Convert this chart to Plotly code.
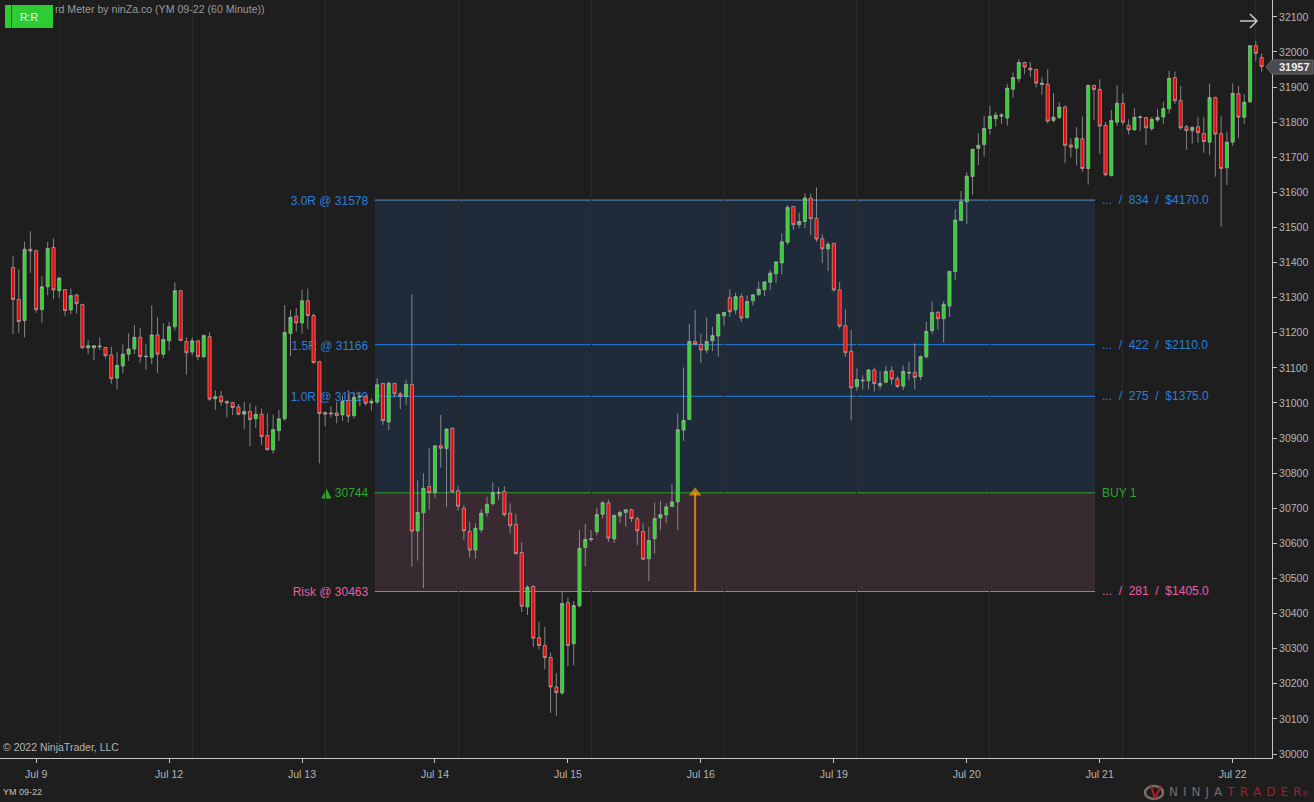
import plotly.graph_objects as go

# 60 minute YM 09-22 bars
opens = [31386, 31295, 31235, 31438, 31434, 31266, 31331, 31443, 31320, 31323,
         31265, 31308, 31281, 31157, 31157, 31160, 31158, 31137, 31071, 31105,
         31139, 31154, 31187, 31132, 31130, 31194, 31139, 31177, 31217, 31320,
         31175, 31145, 31177, 31132, 31189, 31012, 31019, 31004, 31001, 30989,
         30968, 30976, 30955, 30968, 30907, 30866, 30921, 30955, 31198, 31247,
         31228, 31291, 31249, 31118, 30973, 30969, 30972, 30966, 31006, 30964,
         31017, 31019, 31000, 31003, 31056, 30946, 31056, 31026, 31018, 31053,
         30635, 30687, 30762, 30745, 30879, 30870, 30928, 30750, 30700, 30634,
         30581, 30639, 30687, 30713, 30743, 30748, 30686, 30654, 30574, 30419,
         30477, 30331, 30309, 30275, 30191, 30174, 30431, 30314, 30422, 30588,
         30611, 30633, 30683, 30715, 30613, 30678, 30688, 30696, 30670, 30634,
         30556, 30613, 30672, 30681, 30705, 30718, 30923, 30953, 31175, 31167,
         31151, 31177, 31191, 31248, 31300, 31265, 31303, 31243, 31291, 31309,
         31323, 31344, 31368, 31399, 31458, 31560, 31508, 31517, 31584, 31526,
         31468, 31439, 31455, 31322, 31220, 31147, 31046, 31063, 31063, 31094,
         31049, 31059, 31092, 31069, 31048, 31085, 31087, 31075, 31132, 31206,
         31258, 31240, 31276, 31374, 31520, 31573, 31645, 31725, 31736, 31782,
         31810, 31817, 31812, 31894, 31924, 31970, 31954, 31950, 31907, 31908,
         31805, 31813, 31843, 31735, 31726, 31753, 31668, 31905, 31893, 31791,
         31648, 31800, 31854, 31791, 31778, 31813, 31813, 31782, 31806, 31815,
         31838, 31927, 31862, 31787, 31776, 31787, 31768, 31743, 31870, 31767,
         31670, 31743, 31881, 31814, 31858, 32018, 31984]
highs = [31418, 31381, 31459, 31489, 31437, 31361, 31459, 31469, 31358, 31323,
         31326, 31310, 31281, 31179, 31165, 31187, 31160, 31160, 31145, 31167,
         31198, 31222, 31213, 31169, 31278, 31244, 31227, 31231, 31344, 31322,
         31187, 31187, 31179, 31195, 31201, 31036, 31034, 31008, 31003, 30997,
         31003, 30999, 30991, 30984, 30970, 30967, 30980, 31279, 31265, 31270,
         31323, 31326, 31255, 31118, 30975, 30991, 31003, 31022, 31037, 31032,
         31032, 31022, 31013, 31070, 31057, 31061, 31057, 31032, 31065, 31309,
         30780, 30800, 30871, 30880, 30966, 30928, 30931, 30764, 30709, 30662,
         30657, 30698, 30733, 30774, 30761, 30763, 30714, 30684, 30603, 30481,
         30481, 30377, 30362, 30289, 30230, 30462, 30446, 30436, 30638, 30655,
         30638, 30702, 30720, 30725, 30682, 30693, 30696, 30699, 30677, 30657,
         30647, 30716, 30721, 30714, 30769, 30970, 31101, 31226, 31265, 31198,
         31243, 31217, 31255, 31258, 31324, 31314, 31312, 31306, 31309, 31346,
         31345, 31379, 31402, 31483, 31564, 31560, 31542, 31597, 31597, 31614,
         31480, 31459, 31455, 31345, 31267, 31208, 31099, 31079, 31097, 31101,
         31091, 31105, 31105, 31076, 31107, 31118, 31170, 31136, 31231, 31288,
         31262, 31290, 31375, 31552, 31604, 31658, 31723, 31768, 31818, 31846,
         31829, 31826, 31909, 31942, 31979, 31972, 31972, 31951, 31928, 31951,
         31883, 31857, 31848, 31754, 31786, 31816, 31906, 31906, 31922, 31800,
         31835, 31906, 31882, 31808, 31840, 31819, 31814, 31815, 31838, 31858,
         31946, 31944, 31903, 31792, 31789, 31815, 31815, 31910, 31873, 31817,
         31773, 31910, 31903, 31880, 32018, 32032, 31996]
lows = [31196, 31200, 31187, 31371, 31257, 31228, 31307, 31296, 31300, 31248,
        31253, 31255, 31154, 31139, 31122, 31151, 31127, 31055, 31039, 31084,
        31120, 31139, 31115, 31095, 31111, 31086, 31127, 31149, 31206, 31176,
        31081, 31136, 31122, 31127, 31006, 30980, 30992, 30959, 30965, 30965,
        30926, 30877, 30929, 30880, 30864, 30856, 30892, 30949, 31133, 31203,
        31198, 31210, 31112, 30828, 30934, 30959, 30942, 30949, 30944, 30956,
        30991, 30993, 30978, 30997, 30938, 30923, 31016, 30982, 30994, 30534,
        30551, 30473, 30697, 30728, 30816, 30704, 30744, 30693, 30610, 30559,
        30557, 30630, 30676, 30707, 30725, 30676, 30628, 30567, 30405, 30396,
        30305, 30298, 30241, 30117, 30109, 30168, 30250, 30253, 30418, 30535,
        30604, 30623, 30671, 30604, 30601, 30658, 30647, 30661, 30595, 30552,
        30493, 30571, 30638, 30657, 30704, 30638, 30892, 30953, 31167, 31114,
        31141, 31148, 31132, 31220, 31245, 31253, 31231, 31241, 31278, 31305,
        31304, 31322, 31341, 31366, 31451, 31493, 31498, 31498, 31479, 31459,
        31399, 31376, 31317, 31212, 31131, 30950, 31035, 31038, 31038, 31032,
        31039, 31057, 31052, 31043, 31037, 31065, 31039, 31065, 31126, 31197,
        31209, 31172, 31245, 31350, 31518, 31510, 31593, 31678, 31702, 31766,
        31788, 31795, 31790, 31870, 31913, 31937, 31928, 31899, 31878, 31796,
        31799, 31809, 31683, 31699, 31676, 31659, 31622, 31806, 31709, 31646,
        31645, 31789, 31791, 31765, 31776, 31775, 31735, 31775, 31801, 31795,
        31825, 31852, 31778, 31721, 31739, 31741, 31713, 31706, 31645, 31502,
        31621, 31732, 31754, 31795, 31855, 31974, 31944]
closes = [31295, 31232, 31438, 31433, 31266, 31331, 31440, 31322, 31356, 31263,
          31306, 31283, 31157, 31163, 31163, 31162, 31135, 31069, 31107, 31139,
          31154, 31187, 31132, 31133, 31194, 31139, 31181, 31217, 31320, 31178,
          31143, 31177, 31132, 31192, 31011, 31018, 31003, 31000, 30987, 30968,
          30976, 30953, 30968, 30904, 30867, 30924, 30955, 31201, 31244, 31228,
          31291, 31249, 31115, 30970, 30968, 30971, 30964, 31005, 30962, 31016,
          31019, 30999, 31005, 31052, 30950, 31056, 31026, 31019, 31053, 30635,
          30688, 30757, 30745, 30878, 30871, 30926, 30747, 30706, 30636, 30581,
          30643, 30686, 30711, 30745, 30745, 30682, 30650, 30571, 30421, 30475,
          30330, 30309, 30275, 30191, 30175, 30429, 30309, 30423, 30586, 30611,
          30613, 30682, 30716, 30615, 30680, 30688, 30696, 30671, 30636, 30555,
          30608, 30671, 30682, 30704, 30718, 30924, 30950, 31175, 31167, 31151,
          31175, 31192, 31252, 31258, 31260, 31303, 31242, 31289, 31308, 31324,
          31345, 31370, 31402, 31459, 31557, 31508, 31517, 31584, 31525, 31467,
          31439, 31452, 31322, 31219, 31143, 31043, 31067, 31065, 31094, 31055,
          31056, 31090, 31068, 31047, 31090, 31087, 31073, 31132, 31204, 31258,
          31240, 31281, 31375, 31521, 31573, 31646, 31723, 31734, 31782, 31817,
          31820, 31820, 31897, 31927, 31970, 31957, 31949, 31911, 31911, 31803,
          31814, 31843, 31734, 31729, 31755, 31668, 31905, 31893, 31789, 31650,
          31805, 31854, 31800, 31778, 31814, 31815, 31784, 31808, 31814, 31839,
          31925, 31861, 31784, 31776, 31785, 31770, 31745, 31870, 31766, 31668,
          31743, 31882, 31814, 31857, 32018, 31996, 31958]
bars = list(range(len(opens)))

price_ticks = list(range(30000, 32200, 100))
date_ticks = [4, 27, 50, 73, 96, 119, 142, 165, 188, 211]
date_labels = ["Jul 9", "Jul 12", "Jul 13", "Jul 14", "Jul 15",
               "Jul 16", "Jul 19", "Jul 20", "Jul 21", "Jul 22"]
session_breaks = [8, 31, 54, 77, 100, 123, 146, 169, 192, 215]

# risk reward levels
level_prices = [31578, 31166, 31019, 30744, 30463]
level_left = ["3.0R @ 31578", "1.5R @ 31166", "1.0R @ 31019",
              "<span style='font-family:DejaVu Sans;font-size:13px'>\u25b2</span> 30744", "Risk @ 30463"]
level_right = ["...\u00a0\u00a0/\u00a0\u00a0834\u00a0\u00a0/\u00a0\u00a0$4170.0",
               "...\u00a0\u00a0/\u00a0\u00a0422\u00a0\u00a0/\u00a0\u00a0$2110.0",
               "...\u00a0\u00a0/\u00a0\u00a0275\u00a0\u00a0/\u00a0\u00a0$1375.0",
               "BUY 1",
               "...\u00a0\u00a0/\u00a0\u00a0281\u00a0\u00a0/\u00a0\u00a0$1405.0"]
level_colors = ["#2a7fdc", "#2a7fdc", "#2a7fdc", "#2ca52c", "#e8609f"]
line_colors = ["#5b93c8", "#1e80e8", "#1e80e8", "#2ca52c", "#d9609a"]
box_start = 62.6
box_end = 187.2
entry_bar = 118
last_price = 31957

BG = "#1e1e1e"
TXT = "#b4b4b4"
FONT = "Liberation Sans"
W, H = 1314, 802
PLOT_W, PLOT_H = 1272, 758


def px(x):
    return x / PLOT_W


def py(y):
    return 1 - y / PLOT_H


fig = go.Figure()

fig.add_trace(go.Candlestick(
    x=bars, open=opens, high=highs, low=lows, close=closes,
    increasing=dict(fillcolor="#22dd22", line=dict(color="#b0b0b0", width=0.7)),
    decreasing=dict(fillcolor="#ff0000", line=dict(color="#b0b0b0", width=0.7)),
    whiskerwidth=0,
    showlegend=False,
))

# entry arrow
fig.add_trace(go.Scatter(
    x=[entry_bar, entry_bar], y=[level_prices[4], level_prices[3]],
    mode="lines+markers",
    line=dict(color="#d47f14", width=2),
    marker=dict(symbol="triangle-up", size=[0, 11], color="#ffa000", line=dict(width=0)),
    showlegend=False, hoverinfo="skip",
))

# shaded target and risk zones
fig.add_shape(type="rect", x0=box_start, x1=box_end, y0=level_prices[3], y1=level_prices[0],
              fillcolor="#1f2b38", line_width=0, layer="below")
fig.add_shape(type="rect", x0=box_start, x1=box_end, y0=level_prices[4], y1=level_prices[3],
              fillcolor="#372a30", line_width=0, layer="below")

# level lines, labels sit in the shape so the candles draw over them
for price, left, right, col, lcol in zip(level_prices, level_left, level_right, level_colors, line_colors):
    fig.add_shape(type="line", x0=box_start, x1=box_end, y0=price, y1=price,
                  line=dict(color=lcol, width=1), layer="below",
                  label=dict(text=left + "\u00a0\u00a0", textposition="start", xanchor="right", yanchor="middle",
                             font=dict(family=FONT, size=12, color=col)))
    fig.add_annotation(x=box_end, y=price, text=right, showarrow=False, xanchor="left", xshift=5,
                       font=dict(family=FONT, size=12, color=col))

# R:R button and title
fig.add_annotation(xref="paper", yref="paper", x=px(54), y=py(9), text="rd Meter by ninZa.co (YM 09-22 (60 Minute))",
                   showarrow=False, xanchor="left", yanchor="middle", xshift=-1,
                   font=dict(family=FONT, size=10.6, color="#9a9a9a"))
fig.add_shape(type="rect", xref="paper", yref="paper", x0=px(5), x1=px(53), y0=py(28), y1=py(5),
              fillcolor="#2ecc32", line_width=0,
              label=dict(text="R:R", textposition="middle center",
                         font=dict(family=FONT, size=10.5, color="#e8ffe8")))
fig.add_shape(type="line", xref="paper", yref="paper", x0=px(11.5), x1=px(11.5), y0=py(28), y1=py(5),
              line=dict(color="#17701a", width=1))

# arrow button top right
fig.add_shape(type="path", xref="paper", yref="paper",
              path=f"M {px(1240)} {py(21)} L {px(1257)} {py(21)} M {px(1250)} {py(14)} L {px(1257)} {py(21)} L {px(1250)} {py(28)}",
              line=dict(color="#c8c8c8", width=1.5))

# last price flag
fig.add_shape(type="path", xref="paper", yref="paper",
              path=f"M {px(1266)} {py(67)} L {px(1272)} {py(60)} L {px(1313)} {py(60)} L {px(1313)} {py(74)} L {px(1272)} {py(74)} Z",
              fillcolor="#4a4a50", line=dict(color="#6a6a70", width=1))
fig.add_annotation(xref="paper", x=px(1277), y=last_price, text=f"<b>{last_price}</b>", showarrow=False, xanchor="left",
                   font=dict(family=FONT, size=11, color="#f0f0f0"))

# footer texts
fig.add_annotation(xref="paper", yref="paper", x=px(3), y=py(747), text="\u00a9 2022 NinjaTrader, LLC",
                   showarrow=False, xanchor="left", yanchor="middle", xshift=-2,
                   font=dict(family=FONT, size=10.5, color=TXT))
fig.add_annotation(xref="paper", yref="paper", x=px(3), y=py(792), text="YM 09-22",
                   showarrow=False, xanchor="left", yanchor="middle", xshift=-2,
                   font=dict(family=FONT, size=9, color="#c0c0c0"))

# logo
fig.add_shape(type="circle", xref="paper", yref="paper", x0=px(1145), x1=px(1163), y0=py(799), y1=py(786),
              line=dict(color="#7a6e66", width=2.5))
fig.add_shape(type="path", xref="paper", yref="paper",
              path=f"M {px(1151)} {py(786)} L {px(1155)} {py(798)} L {px(1161)} {py(786)}",
              line=dict(color="#b01f2a", width=2))
gap = "\u00a0\u200a"
fig.add_annotation(xref="paper", yref="paper", x=px(1169), y=py(792),
                   text=gap.join("NINJA") + gap + "<span style='color:#a01e2c'>" + gap.join("TRADER")
                        + "</span><span style='color:#a01e2c;font-size:7px'>\u00ae</span>",
                   showarrow=False, xanchor="left", yanchor="middle", xshift=-2,
                   font=dict(family="DejaVu Sans", size=12, color="#6e6e6e"))

fig.update_layout(
    width=W, height=H,
    margin=dict(l=0, r=W - PLOT_W, t=0, b=H - PLOT_H, autoexpand=False),
    paper_bgcolor=BG, plot_bgcolor=BG,
    font=dict(family=FONT, size=10.5, color=TXT),
    showlegend=False,
    boxgap=0.22,
)
fig.update_xaxes(
    range=[-2.25, 217.8], rangeslider_visible=False, zeroline=False,
    tickmode="array", tickvals=date_ticks, ticktext=date_labels,
    showgrid=False, showline=True, linecolor="#c4c4c4", linewidth=1,
    ticks="outside", ticklen=4, tickcolor="#c4c4c4", ticklabelstandoff=2,
    tickfont=dict(family=FONT, size=10.5, color=TXT),
    minor=dict(tickvals=session_breaks, showgrid=True, gridcolor="#2b2b2b", gridwidth=1, ticks=""),
)
fig.update_yaxes(
    side="right", range=[29988.6, 32148], zeroline=False,
    tickmode="array", tickvals=price_ticks, ticktext=[str(p) for p in price_ticks],
    showgrid=False, showline=True, linecolor="#c4c4c4", linewidth=1,
    ticks="outside", ticklen=4, tickcolor="#c4c4c4",
    tickfont=dict(family=FONT, size=10.5, color=TXT),
)

fig.write_html("out.html", config={"displayModeBar": False}, post_script="document.body.style.margin='0';")
